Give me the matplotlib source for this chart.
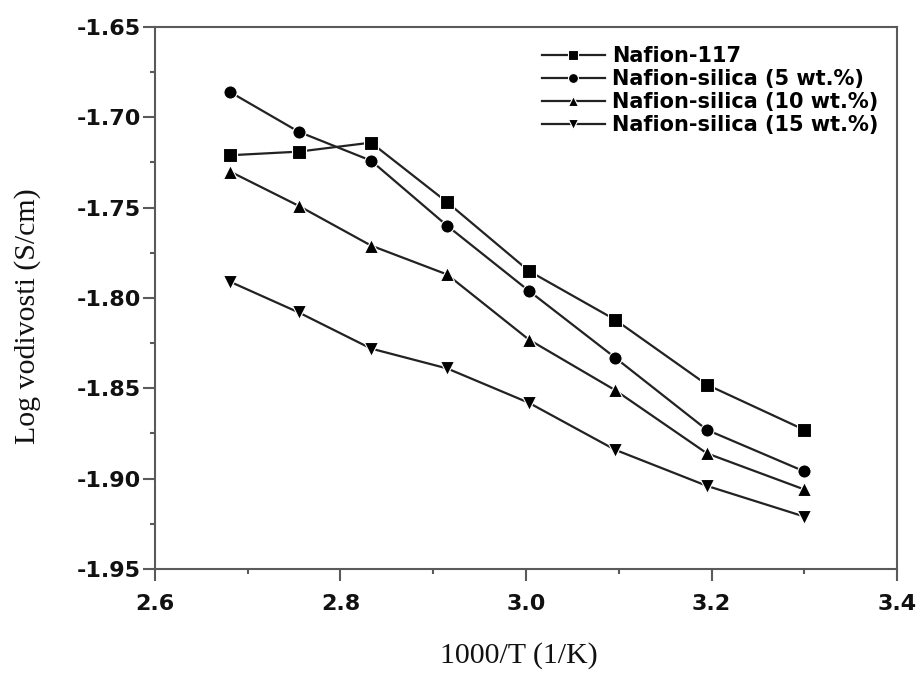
import matplotlib
matplotlib.use("Agg")
import matplotlib.pyplot as plt
from matplotlib.ticker import MultipleLocator

# 1000/T values (T = 373 ... 303 K)
inv_t = [2.681, 2.755, 2.833, 2.915, 3.003, 3.096, 3.195, 3.300]

# log conductivity
nafion_117 = [-1.721, -1.719, -1.714, -1.747, -1.785, -1.812, -1.848, -1.873]
silica_5 = [-1.686, -1.708, -1.724, -1.760, -1.796, -1.833, -1.873, -1.896]
silica_10 = [-1.730, -1.749, -1.771, -1.787, -1.823, -1.851, -1.886, -1.906]
silica_15 = [-1.791, -1.808, -1.828, -1.839, -1.858, -1.884, -1.904, -1.921]

labels = ["Nafion-117", "Nafion-silica (5 wt.%)",
          "Nafion-silica (10 wt.%)", "Nafion-silica (15 wt.%)"]
markers = ["s", "o", "^", "v"]

plt.rcParams["axes.unicode_minus"] = False

fig = plt.figure(figsize=(9.22, 6.78), dpi=100)
ax = fig.add_axes([0.168, 0.1608, 0.805, 0.7994])

for ys, m, lab in zip([nafion_117, silica_5, silica_10, silica_15], markers, labels):
    ax.plot(inv_t, ys, color="#222222", lw=1.6, marker=m, ms=9.5,
            mfc="black", mec="white", mew=0.8, label=lab)

ax.set_xlim(2.6, 3.4)
ax.set_ylim(-1.95, -1.65)
ax.xaxis.set_major_locator(MultipleLocator(0.2))
ax.xaxis.set_minor_locator(MultipleLocator(0.1))
ax.yaxis.set_major_locator(MultipleLocator(0.05))
ax.yaxis.set_minor_locator(MultipleLocator(0.025))
ax.xaxis.set_major_formatter(plt.FormatStrFormatter("%.1f"))
ax.yaxis.set_major_formatter(plt.FormatStrFormatter("%.2f"))

for s in ax.spines.values():
    s.set_color("#5a5a5a")
    s.set_linewidth(1.5)

ax.tick_params(which="major", direction="out", length=8.5, width=1.5,
               color="#5a5a5a", labelsize=16)
ax.tick_params(which="minor", direction="out", length=3.6, width=1.5,
               color="#5a5a5a")
ax.tick_params(axis="y", which="major", pad=1.5)
ax.tick_params(axis="x", which="major", pad=9.5)
for t in ax.get_xticklabels() + ax.get_yticklabels():
    t.set_fontweight("bold")
    t.set_color("#111111")

ax.set_xlabel("1000/T (1/K)", family="Liberation Serif", fontsize=21.5,
              color="#111111", va="center")
ax.set_ylabel("Log vodivosti (S/cm)", family="Liberation Serif", fontsize=21.5,
              color="#111111", va="center")
ax.xaxis.set_label_coords(0.49, -0.159)
ax.yaxis.set_label_coords(-0.171, 0.467)

ax.legend(loc="upper left", bbox_to_anchor=(0.5216, 0.965), frameon=False,
          borderpad=0, borderaxespad=0, labelspacing=0.15, handlelength=3.0,
          handletextpad=0.35, markerscale=0.75,
          prop={"weight": "bold", "size": 15})

fig.savefig("out.png", dpi=100)
